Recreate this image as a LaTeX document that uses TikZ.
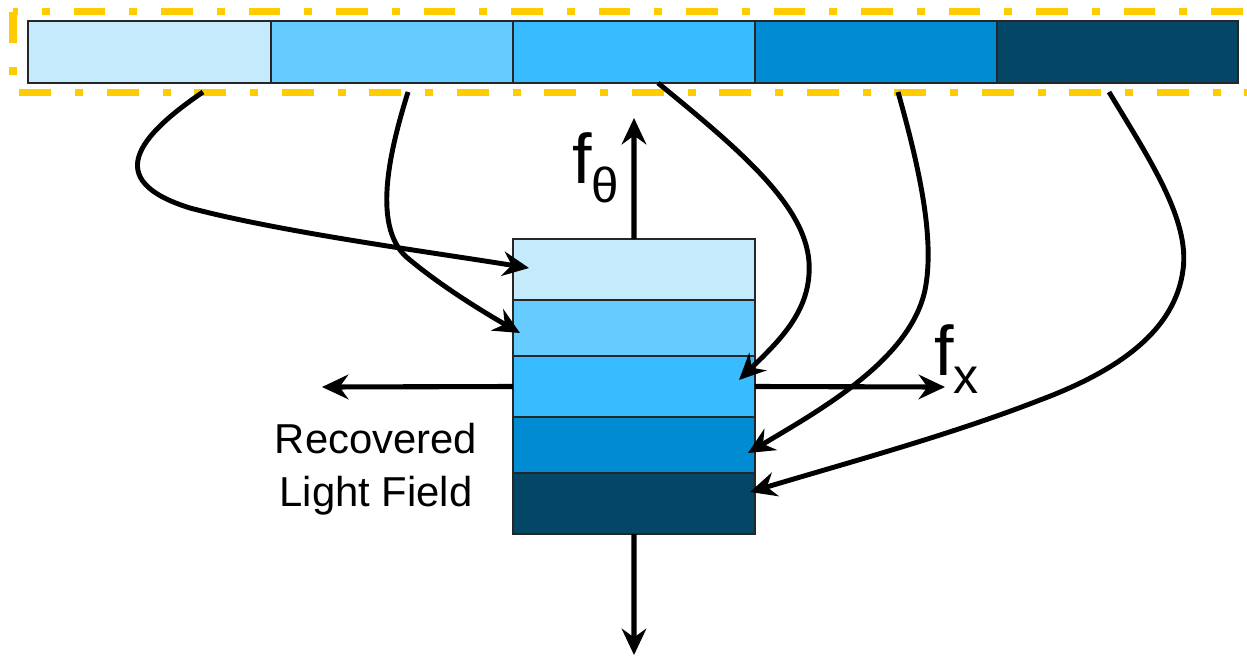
\documentclass[tikz,border=0pt]{standalone}
\usepackage{fontspec}
\setmainfont{Liberation Sans}
\usetikzlibrary{arrows.meta}
\definecolor{c1}{HTML}{C4EAFC}
\definecolor{c2}{HTML}{66CBFF}
\definecolor{c3}{HTML}{38BCFF}
\definecolor{c4}{HTML}{018BD3}
\definecolor{c5}{HTML}{034665}
\definecolor{ylw}{HTML}{FFCC00}
\begin{document}
\begin{tikzpicture}[x=0.02cm,y=-0.02cm,
  seg/.style={draw=black!85, line width=1.1pt, inner sep=0pt, outer sep=0pt, anchor=north west, minimum width=4.84cm},
  tall/.style={minimum height=1.22cm},
  short/.style={minimum height=1.12cm},
  conn/.style={line width=2.8pt, -{Stealth[length=15pt,width=14pt,inset=5pt]}},
  axis/.style={line width=2.9pt, -{Stealth[length=15pt,width=14pt,inset=5pt]}},
  ydash/.style={draw=ylw, line width=4.5pt, dash pattern=on 18.1pt off 13.6pt on 4.5pt off 13.6pt},
  big/.style={font=\fontsize{40pt}{40pt}\selectfont, inner sep=0pt, anchor=base west},
  lbl/.style={font=\fontsize{23.8pt}{30pt}\selectfont, align=center, inner sep=0pt}]
\useasboundingbox (0,0) rectangle (1247,657);
% dashed yellow frame (right side runs off the picture)
\begin{scope}
\clip (0,0) rectangle (1247,657);
\draw[ydash] (13,11.5) -- (13,92.5) -- (1300,92.5);
\draw[ydash, dash phase=15.3pt] (13,11.5) -- (1300,11.5);
\end{scope}
% top bar
\node[seg, fill=c1, minimum width=4.86cm, minimum height=1.24cm] (b1) at (28,21) {};
\node[seg, fill=c2, minimum height=1.24cm] (b2) at (271,21) {};
\node[seg, fill=c3, minimum height=1.24cm] (b3) at (513,21) {};
\node[seg, fill=c4, minimum height=1.24cm] (b4) at (755,21) {};
\node[seg, fill=c5, minimum width=4.82cm, minimum height=1.24cm] (b5) at (997,21) {};
% recovered stack
\node[seg, tall, fill=c1] (k1) at (513,239) {};
\node[seg, short, fill=c2] (k2) at (513,300) {};
\node[seg, tall, fill=c3] (k3) at (513,356) {};
\node[seg, short, fill=c4] (k4) at (513,417) {};
\node[seg, tall, fill=c5] (k5) at (513,473) {};
% axes
\coordinate (up) at (634,118);
\coordinate (down) at (634,655);
\coordinate (left) at (322,387);
\coordinate (right) at (945,387);
\draw[axis] (k1.north) -- (up);
\draw[axis] (k5.south) -- (down);
\draw[axis] (k3.west) -- (left);
\draw[axis] (k3.east) -- (right);
% labels
\node[big] (fth) at (572,183) {f\raisebox{-11.3pt}{\fontsize{28pt}{28pt}\selectfont θ}};
\node[big] (fx) at (934,375) {f\raisebox{-10.8pt}{\fontsize{28.5pt}{28.5pt}\selectfont x}};
\node[lbl] (rlf) at (376,469) {Recovered\\Light Field};
% connectors
\coordinate (s1) at (203,92);
\coordinate (s2) at (408,92);
\coordinate (s3) at (658,83);
\coordinate (s4) at (898,92);
\coordinate (s5) at (1109,92);
\coordinate (t1) at (529,268);
\coordinate (t2) at (520,333);
\coordinate (t3) at (739,380);
\coordinate (t4) at (748,453);
\coordinate (t5) at (750,492);
\draw[conn] (s1) .. controls (140,135) and (100,180) .. (190,208) .. controls (280,232) and (430,252) .. (t1);
\draw[conn] (s2) .. controls (390,150) and (370,230) .. (410,260) .. controls (440,285) and (480,310) .. (t2);
\draw[conn] (s3) .. controls (740,150) and (805,205) .. (809,262) .. controls (812,310) and (780,340) .. (t3);
\draw[conn] (s4) .. controls (920,170) and (935,240) .. (925,290) .. controls (910,360) and (820,410) .. (t4);
\draw[conn] (s5) .. controls (1150,160) and (1190,220) .. (1183,270) .. controls (1175,330) and (1120,370) .. (1040,400) .. controls (950,435) and (850,462) .. (t5);
\end{tikzpicture}
\end{document}
